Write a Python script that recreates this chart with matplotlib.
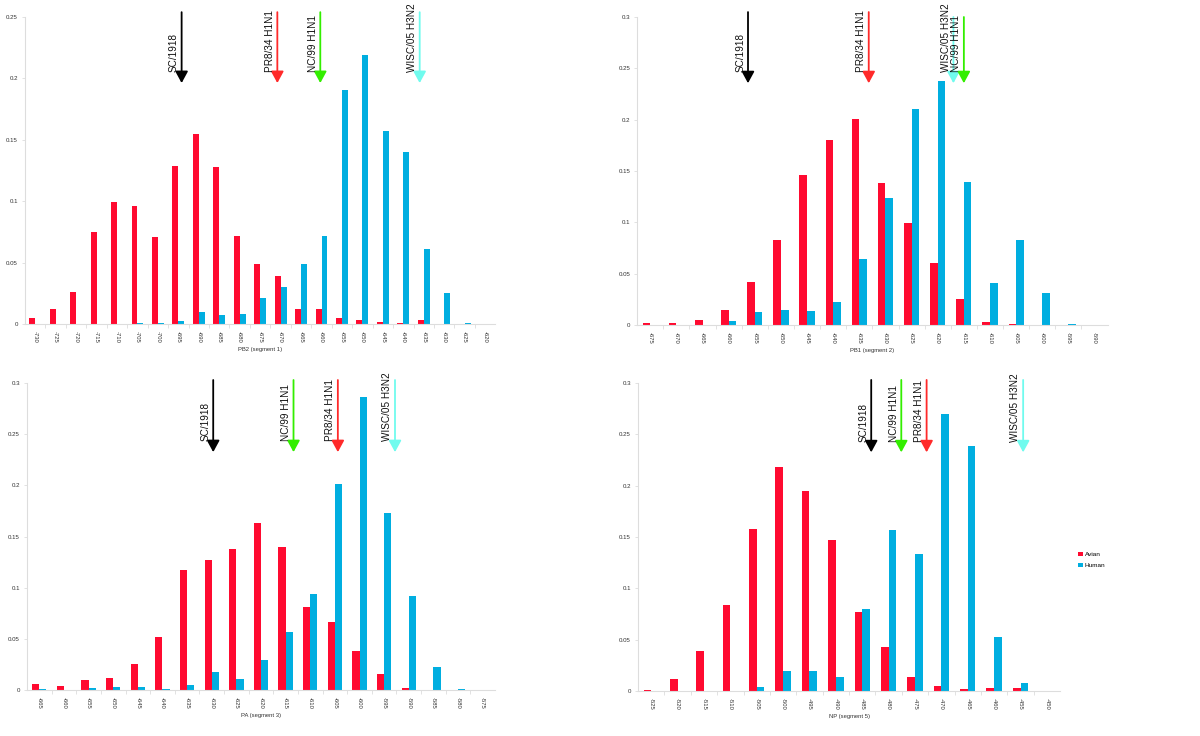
import numpy as np
import matplotlib.pyplot as plt
import matplotlib.transforms as mtransforms

plt.rcParams['font.family'] = ['Liberation Sans', 'DejaVu Sans']

# PB2 (segment 1)
pb2_pos = list(range(-730, -619, 5))
pb2_avian = [0.005, 0.0125, 0.026, 0.075, 0.099, 0.096, 0.071, 0.129, 0.155, 0.128, 0.072, 0.049,
             0.039, 0.0125, 0.0125, 0.005, 0.003, 0.0016, 0.0008, 0.003, 0, 0, 0]
pb2_human = [0, 0, 0, 0, 0, 0.0005, 0.001, 0.0027, 0.010, 0.0076, 0.008, 0.021,
             0.030, 0.049, 0.072, 0.191, 0.219, 0.157, 0.140, 0.061, 0.0255, 0.0005, 0]
pb2_marks = [('SC/1918', -694.2), ('PR8/34 H1N1', -670.8), ('NC/99 H1N1', -660.3), ('WISC/05 H3N2', -636.0)]

# PB1 (segment 2)
pb1_pos = list(range(-675, -589, 5))
pb1_avian = [0.002, 0.002, 0.0045, 0.0143, 0.042, 0.083, 0.146, 0.180, 0.201, 0.138, 0.099, 0.060,
             0.025, 0.003, 0.0013, 0, 0, 0]
pb1_human = [0, 0, 0, 0.0036, 0.013, 0.015, 0.0136, 0.0227, 0.064, 0.124, 0.210, 0.238,
             0.139, 0.041, 0.083, 0.031, 0.0013, 0]
pb1_marks = [('SC/1918', -656.3), ('PR8/34 H1N1', -633.2), ('WISC/05 H3N2', -617.0), ('NC/99 H1N1', -615.0)]

# PA (segment 3)
pa_pos = list(range(-665, -574, 5))
pa_avian = [0.006, 0.0042, 0.010, 0.0117, 0.0257, 0.052, 0.117, 0.127, 0.138, 0.163, 0.140, 0.0816,
            0.066, 0.0377, 0.016, 0.0016, 0, 0, 0]
pa_human = [0.0006, 0, 0.0019, 0.003, 0.003, 0.0006, 0.005, 0.018, 0.011, 0.029, 0.057, 0.0936,
            0.201, 0.286, 0.1735, 0.092, 0.0227, 0.0013, 0]
pa_marks = [('SC/1918', -629.7), ('NC/99 H1N1', -613.4), ('PR8/34 H1N1', -604.4), ('WISC/05 H3N2', -592.8)]

# NP (segment 5)
np_pos = list(range(-525, -449, 5))
np_avian = [0.001, 0.012, 0.0387, 0.084, 0.158, 0.218, 0.195, 0.1475, 0.077, 0.043, 0.014, 0.0045,
            0.002, 0.0032, 0.0026, 0]
np_human = [0, 0, 0, 0, 0.0042, 0.0198, 0.0198, 0.014, 0.0796, 0.157, 0.1336, 0.270,
            0.239, 0.053, 0.008, 0]
np_marks = [('SC/1918', -483.3), ('NC/99 H1N1', -477.6), ('PR8/34 H1N1', -472.8), ('WISC/05 H3N2', -454.5)]

mark_colors = {'SC/1918': '#000000', 'PR8/34 H1N1': '#ff2a2a',
               'NC/99 H1N1': '#33ee00', 'WISC/05 H3N2': '#70fbee'}

RED = '#ff0a30'
BLUE = '#00aee0'
AXC = '#dddddd'
TXT = '#333333'

fig = plt.figure(figsize=(12, 7.36), dpi=100)

panels = [
    ([0.0208, 0.5598, 0.392, 0.417], pb2_pos, pb2_avian, pb2_human, pb2_marks, 'PB2 (segment 1)', 0.25,
     [0, 0.05, 0.1, 0.15, 0.2, 0.25], 1.016, 0.785, {}),
    ([0.531, 0.5584, 0.392, 0.4185], pb1_pos, pb1_avian, pb1_human, pb1_marks, 'PB1 (segment 2)', 0.3,
     [0, 0.05, 0.1, 0.15, 0.2, 0.25, 0.3], 1.016, 0.785, {'WISC/05 H3N2': 1.0, 'NC/99 H1N1': 1.0}),
    ([0.0225, 0.0625, 0.39, 0.417], pa_pos, pa_avian, pa_human, pa_marks, 'PA (segment 3)', 0.3,
     [0, 0.05, 0.1, 0.15, 0.2, 0.25, 0.3], 1.01, 0.775, {}),
    ([0.5317, 0.0611, 0.3517, 0.4185], np_pos, np_avian, np_human, np_marks, 'NP (segment 5)', 0.3,
     [0, 0.05, 0.1, 0.15, 0.2, 0.25, 0.3], 1.01, 0.775, {}),
]

for rect, pos, avian, human, marks, xlabel, ymax, yticks, ytop, ytip, top_over in panels:
    ax = fig.add_axes(rect)
    idx = np.arange(len(pos))
    w = 0.29
    ax.bar(idx - w / 2, avian, width=w, color=RED, label='Avian')
    ax.bar(idx + w / 2, human, width=w, color=BLUE, label='Human')
    ax.set_xlim(-0.5, len(pos) - 0.5)
    ax.set_ylim(0, ymax)
    ax.set_xticks(idx)
    ax.set_xticklabels([str(p) for p in pos], rotation=270, fontsize=4.2, color=TXT)
    ax.set_xticks(idx[:-1] + 0.5, minor=True)
    ax.set_yticks(yticks)
    ax.set_yticklabels(['0' if t == 0 else ('%g' % t) for t in yticks], fontsize=4.4, color=TXT)
    ax.tick_params(axis='x', which='major', length=0, pad=5)
    ax.tick_params(axis='x', which='minor', length=3, color=AXC, width=0.6)
    ax.tick_params(axis='y', length=2, color=AXC, width=0.6, pad=3)
    for s in ['top', 'right']:
        ax.spines[s].set_visible(False)
    for s in ['left', 'bottom']:
        ax.spines[s].set_color(AXC)
        ax.spines[s].set_linewidth(0.8)
    ax.set_xlabel(xlabel, fontsize=4.2, color=TXT, labelpad=3)

    trans = mtransforms.blended_transform_factory(ax.transData, ax.transAxes)
    for name, val in marks:
        x = (val - pos[0]) / 5.0
        c = mark_colors[name]
        y0 = top_over.get(name, ytop)
        ax.annotate('', xy=(x, ytip), xycoords=trans, xytext=(x, y0), textcoords=trans,
                    arrowprops=dict(arrowstyle='-|>,head_length=0.7,head_width=0.38',
                                    color=c, lw=1.3, shrinkA=0, shrinkB=0),
                    annotation_clip=False)
        ax.annotate(name, xy=(x, ytip + 0.035), xycoords=trans, xytext=(-2, 0),
                    textcoords='offset points', rotation=90, ha='right', va='bottom',
                    fontsize=7.2, color='#111111', annotation_clip=False)

    if xlabel.startswith('NP'):
        ax.legend(loc='center left', bbox_to_anchor=(1.03, 0.425), frameon=False, fontsize=4.6,
                  handlelength=0.7, handleheight=0.7, handletextpad=0.3, labelspacing=0.9)

fig.savefig('out.png', dpi=100, facecolor='white')
